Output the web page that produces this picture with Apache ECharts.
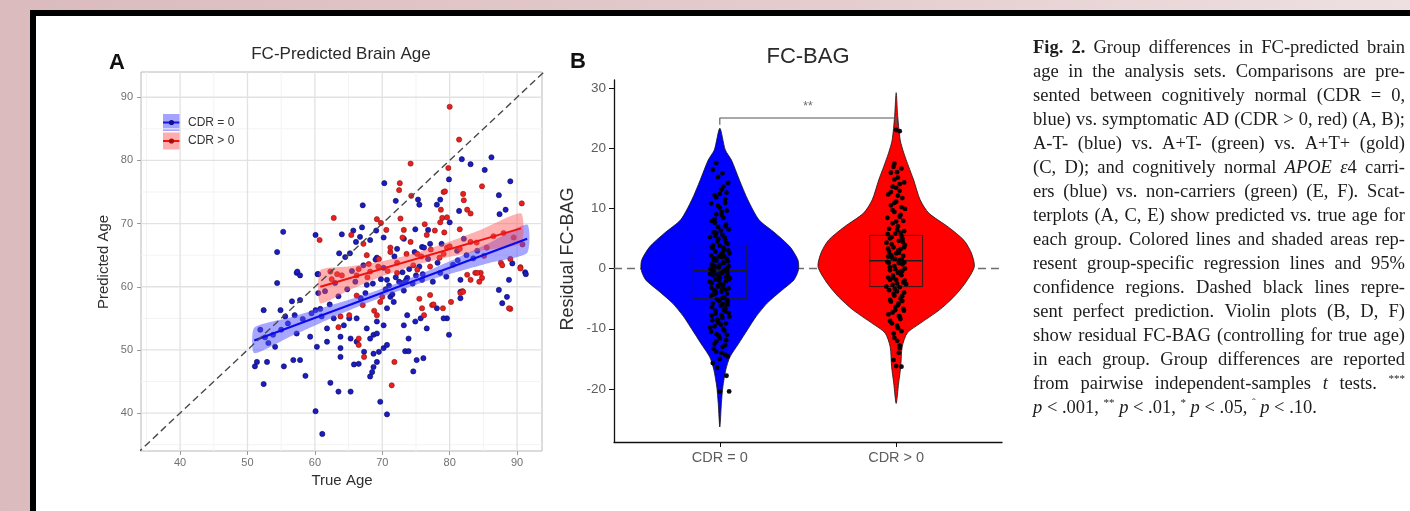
<!DOCTYPE html>
<html>
<head>
<meta charset="utf-8">
<title>FC-predicted brain age</title>
<script src="https://cdn.jsdelivr.net/npm/echarts@6/dist/echarts.min.js"></script>
<style>
  html, body { margin: 0; padding: 0; width: 1410px; height: 511px; overflow: hidden;
    background: linear-gradient(90deg, #dbbbbd 0%, #e4cbcd 55%, #eee0e1 100%); }
  #frame { position: absolute; left: 30px; top: 10px; width: 1400px; height: 520px; background: #000; }
  #paper { position: absolute; left: 36px; top: 16px; width: 1400px; height: 520px; background: #fff; }
  #chart { position: absolute; left: 0; top: 0; width: 1410px; height: 511px; }
</style>
</head>
<body>
<div id="frame"></div>
<div id="paper"></div>
<div id="chart"></div>
<script type="text/javascript">
// ---- panel A data: true age vs predicted age ----
var ageTicks = [40, 50, 60, 70, 80, 90];
var ageMinor = [35, 45, 55, 65, 75, 85];
var cdr0Points = [
  [86.2,80.5],[81.8,80.2],[83.1,79.4],[85.2,78.5],[79.9,77.0],[89.0,76.7],[70.3,76.4],[72.0,73.6],[75.3,73.8],[75.5,73.0],
  [78.6,73.8],[78.1,73.0],[67.1,72.9],[81.4,72.0],[87.3,74.5],[88.3,72.2],[87.4,71.5],[55.3,68.7],[54.4,65.5],[60.1,68.2],
  [65.7,68.9],[67.0,69.4],[69.1,68.9],[74.9,69.1],[76.8,69.0],[80.0,70.2],[64.0,68.3],[66.7,67.9],[68.2,67.4],[70.2,67.8],
  [66.1,67.1],[63.6,65.3],[64.5,64.7],[65.2,65.3],[69.2,64.6],[72.2,66.0],[73.2,67.6],[75.9,66.3],[77.1,66.8],[81.1,65.7],
  [82.1,67.6],[84.1,65.7],[89.3,63.7],[91.2,62.3],[57.3,62.2],[57.8,61.8],[60.4,62.0],[54.4,60.6],[67.7,60.3],[70.7,61.1],
  [72.9,60.6],[73.7,61.4],[75.9,61.1],[78.6,62.2],[81.6,61.1],[52.4,56.3],[54.9,56.3],[55.6,55.3],[56.6,57.7],[57.8,57.9],
  [51.9,53.2],[53.1,51.1],[54.1,50.5],[51.4,48.1],[51.1,47.4],[52.9,48.1],[55.4,47.4],[56.8,48.4],[57.8,48.4],[52.4,44.6],
  [58.6,45.9],[57.3,52.6],[59.3,52.1],[61.0,55.3],[60.1,56.3],[61.8,53.4],[62.8,55.0],[61.8,51.3],[60.3,50.5],[63.8,52.1],
  [64.3,53.9],[63.8,50.3],[63.8,48.9],[65.3,51.8],[66.2,51.3],[67.3,49.7],[65.8,47.7],[66.5,47.8],[65.1,55.0],[66.2,55.0],
  [67.7,53.4],[68.2,51.8],[68.7,52.4],[69.2,52.6],[68.7,49.4],[69.5,49.7],[70.2,50.3],[70.7,50.8],[69.2,48.1],[68.7,47.3],
  [68.5,46.5],[68.2,45.8],[69.7,41.8],[70.7,39.8],[60.1,40.3],[61.1,36.7],[62.3,44.8],[63.5,43.4],[65.3,43.4],[73.4,49.8],
  [73.9,49.8],[75.1,48.4],[76.1,48.7],[74.6,46.6],[73.9,51.8],[73.2,53.9],[73.7,55.5],[74.9,54.5],[75.7,55.0],[76.6,53.4],
  [78.1,56.6],[79.6,55.0],[79.9,52.4],[71.7,57.6],[70.7,56.6],[69.2,54.5],[70.2,53.9],[71.2,58.4],[81.6,58.2],[81.6,59.2],
  [87.3,59.5],[87.8,57.4],[88.5,58.4],[88.8,61.1],[91.3,62.0],[79.1,55.0],[60.5,62.0],[60.5,59.0],[57.4,62.4],
  [71.0,60.2],[72.0,61.5],[72.5,60.8],[73.0,62.3],[73.5,61.0],[74.0,62.8],[74.5,60.5],[75.0,61.8],[75.5,63.2],[76.0,62.0],
  [73.2,59.4],[71.5,58.8],[70.5,59.6],[69.8,61.2],[68.6,60.5],[67.5,59.0],[66.8,58.2],[77.5,60.8],[78.2,63.8],[76.8,64.4],
  [80.5,63.5],[81.2,64.2],[82.5,65.0],[83.5,64.5],[79.5,61.6],[66.0,60.8],[64.8,59.6],[63.5,58.5],[62.2,57.2],[60.8,56.5],
  [59.5,55.8],[58.2,54.9],[57.0,55.5],[56.0,54.2],[55.0,53.2],[53.8,52.4],[52.6,52.0],[61.5,59.3],[63.0,60.6],[65.5,62.5],
  [67.2,63.4],[69.0,64.3],[70.2,63.0],[71.8,64.8],[74.8,65.5],[76.2,66.2],[78.8,66.8]
];
var cdr1Points = [
  [80.0,88.5],[81.4,83.3],[79.8,78.8],[74.2,79.5],[84.8,75.9],[79.1,75.0],[82.0,74.7],[72.6,76.4],[72.5,75.3],[74.3,74.4],
  [79.3,75.1],[82.1,73.7],[78.7,72.2],[82.6,72.2],[83.1,71.6],[90.7,73.2],[72.7,70.8],[69.2,70.7],[62.8,70.9],[60.7,67.4],
  [65.4,68.2],[70.6,69.0],[69.8,70.1],[76.3,69.9],[77.8,68.9],[78.6,70.2],[78.9,70.9],[79.6,71.0],[81.5,69.1],[73.2,69.0],
  [67.2,66.8],[67.7,65.0],[71.2,65.5],[74.2,67.1],[75.2,65.2],[79.1,65.2],[79.6,66.2],[83.1,67.1],[85.1,64.9],[87.6,63.8],
  [89.0,64.4],[87.8,63.4],[90.5,63.1],[62.3,62.4],[63.3,62.0],[66.2,61.8],[68.2,62.4],[69.4,63.2],[72.2,62.2],[75.2,62.7],
  [77.1,63.2],[82.6,61.9],[83.8,62.2],[84.6,62.2],[84.8,61.4],[63.5,53.6],[66.5,51.8],[66.5,50.8],[67.3,48.9],[65.1,55.5],
  [71.8,48.1],[71.4,44.4],[76.2,55.5],[75.9,56.6],[77.4,57.1],[69.7,57.6],[69.2,55.5],[63.8,55.3],[81.9,59.3],[89.0,56.5],
  [77.1,58.7],[88.8,56.6],[90.5,62.9],[81.6,59.0],[83.1,61.1],[84.1,62.2],
  [66.5,62.8],[68.0,63.6],[69.5,64.4],[70.8,62.5],[72.2,63.8],[73.6,65.2],[74.6,63.4],[75.8,64.8],[77.2,65.9],[78.5,64.6],
  [80.0,66.4],[81.5,66.0],[84.0,67.0],[86.5,68.0],[64.0,61.8],[62.5,61.2],[67.8,61.5],[71.2,66.2],[73.0,67.8],[76.6,68.2],
  [79.2,68.6],[85.5,66.2],[88.0,68.5],[89.5,67.8],[90.8,66.7],[66.2,58.6],[67.1,57.1],[68.8,56.2],[70.0,58.4],[75.5,58.1],
  [77.6,57.2],[79.0,56.6],[80.2,57.6],[82.0,59.2],[84.4,60.8]
];
// regression lines and 95% bands
var fit0 = [[51.0,51.5],[91.5,67.6]];
var band0X  = [51, 56, 61, 66, 71, 76, 81, 86, 91.5];
var band0Lo = [49.5, 51.94, 54.33, 56.66, 58.8, 60.69, 62.33, 63.81, 65.35];
var band0Hi = [53.5, 55.04, 56.63, 58.26, 60.1, 62.19, 64.53, 67.01, 69.85];
var fit1 = [[60.8,60.0],[90.6,69.25]];
var band1X  = [60.8, 65, 70, 75, 80, 85, 90.6];
var band1Lo = [57.4, 59.4, 61.65, 63.45, 64.75, 65.8, 66.9];
var band1Hi = [62.6, 63.2, 64.05, 65.35, 67.15, 69.2, 71.6];
var identityLine = [[30,30],[100,100]];

// ---- panel B data: residual FC-BAG ----
var groupNames = ['CDR = 0', 'CDR > 0'];
var bagTicks = [-20, -10, 0, 10, 20, 30];
var violin0Y = [23.3, 19.7, 18, 14.7, 11.4, 8.1, 5.9, 3.6, 1.4, -0.2, -1.9, -3.6, -5.7, -8, -10.2, -12.4, -14.7, -16.8, -19.7, -22.4, -26.3];
var violin0W = [0, 0.031, 0.066, 0.111, 0.159, 0.222, 0.313, 0.398, 0.443, 0.446, 0.42, 0.352, 0.27, 0.205, 0.156, 0.108, 0.057, 0.034, 0.017, 0.009, 0];
var violin1Y = [29.2, 25.2, 21.3, 19.2, 16.9, 14.7, 11.4, 9.2, 6.9, 4.7, 2.6, 0.3, -2.4, -4.7, -6.9, -9.1, -10.7, -13, -16.3, -19, -22.4];
var violin1W = [0, 0.009, 0.023, 0.043, 0.071, 0.099, 0.136, 0.185, 0.295, 0.384, 0.426, 0.443, 0.392, 0.327, 0.244, 0.136, 0.063, 0.034, 0.026, 0.014, 0];
var boxQ1 = [-5.0, -3.0];
var boxMed = [-0.3, 1.3];
var boxQ3 = [3.8, 5.5];
// [jitter offset, residual]
var jitter0 = [
  [-0.04,16.4],[-0.02,17.5],[0.047,14.2],[0.01,13.1],[-0.03,12.2],[0.03,11.5],[-0.05,10.8],[0.0,10.1],[0.04,9.6],[-0.02,9.0],
  [0.02,8.4],[-0.045,7.9],[0.035,7.3],[-0.01,6.9],[0.05,6.5],[-0.035,6.0],[0.015,5.6],[-0.055,5.2],[0.03,4.8],[-0.015,4.5],
  [0.045,4.1],[0.0,3.8],[-0.04,3.4],[0.025,3.1],[-0.025,2.8],[0.055,2.5],[-0.05,2.2],[0.01,1.9],[0.04,1.6],[-0.02,1.3],
  [0.02,1.0],[-0.045,0.7],[0.05,0.4],[-0.005,0.2],[0.03,-0.1],[-0.035,-0.4],[0.015,-0.7],[-0.055,-0.9],[0.045,-1.2],[0.0,-1.5],
  [-0.025,-1.8],[0.035,-2.1],[-0.045,-2.4],[0.02,-2.7],[-0.01,-3.0],[0.05,-3.3],[-0.03,-3.6],[0.01,-3.9],[0.04,-4.2],[-0.05,-4.5],
  [0.025,-4.8],[-0.015,-5.1],[0.045,-5.5],[-0.04,-5.8],[0.005,-6.2],[0.03,-6.6],[-0.025,-7.0],[0.05,-7.4],[-0.045,-7.8],[0.015,-8.2],
  [-0.01,-8.7],[0.035,-9.1],[-0.03,-9.6],[0.02,-10.0],[-0.05,-10.5],[0.04,-11.0],[0.0,-11.6],[-0.02,-12.1],[0.03,-12.7],[-0.035,-13.3],
  [0.01,-14.0],[0.045,-14.6],[-0.04,-15.7],[0.038,-17.8],[0.053,-20.4],[0.0,-20.4],[-0.015,-16.5],
  [0.022,0.9],[-0.032,1.7],[0.042,-0.6],[-0.012,-2.9],[0.052,-1.8],[-0.052,0.0],[0.008,2.4],[-0.038,3.9],[0.028,5.1],[-0.022,-4.1],
  [0.018,-5.9],[-0.048,-3.2],[0.048,3.0],[-0.008,4.9],[0.032,-7.1],[-0.028,7.6],[0.012,8.9],[-0.042,-8.6],[0.038,12.6],[-0.018,-10.9],
  [0.006,6.3],[-0.026,5.4],[0.036,4.3],[-0.046,3.6],[0.016,2.7],[-0.006,2.0],[0.046,1.2],[-0.036,0.5],[0.026,-0.3],[-0.016,-1.0],
  [0.056,-1.6],[-0.056,-2.2],[0.004,-2.6],[0.034,-3.5],[-0.034,-4.3],[0.014,-4.9],[-0.004,-5.4],[0.044,-6.0],[-0.044,-6.4],[0.024,-6.9],
  [-0.024,-7.5],[0.054,-8.0],[-0.014,-8.4],[0.006,-9.3],[-0.054,-9.8],[0.026,-10.3],[-0.006,-11.2],[0.036,-11.9],[-0.03,-12.5],[0.016,-13.0],
  [-0.02,-13.8],[0.03,-14.3],[0.0,-15.0],[-0.01,-9.0],[0.01,-7.7],[0.04,-5.2],[-0.04,-1.1],[0.0,0.6],[0.02,3.5],[-0.02,5.9],
  [0.03,7.0],[-0.03,8.2],[0.01,9.4],[-0.01,10.4],[0.03,10.9],[-0.02,11.8],[0.0,12.4],[0.02,13.6],[-0.01,15.2],[0.015,15.8],
  [-0.025,0.3],[0.045,0.1],[-0.045,-0.2],[0.005,-0.8],[0.035,-1.4],[-0.035,1.4],[0.025,2.0],[-0.005,-2.0],[0.015,-3.3],[-0.025,-3.8]
];
var jitter1 = [
  [0.0,23.0],[0.02,22.8],[-0.01,17.4],[0.03,16.6],[-0.03,15.9],[0.01,15.1],[0.045,14.3],[-0.02,13.6],[0.02,12.9],[-0.045,12.3],
  [0.035,11.7],[0.0,11.1],[-0.03,10.5],[0.05,9.9],[-0.01,9.4],[0.025,8.9],[-0.05,8.4],[0.04,7.9],[-0.02,7.5],[0.01,7.0],
  [-0.04,6.6],[0.045,6.2],[-0.005,5.8],[0.03,5.4],[-0.035,5.0],[0.015,4.6],[-0.055,4.3],[0.05,3.9],[-0.015,3.5],[0.025,3.2],
  [-0.04,2.8],[0.0,2.5],[0.04,2.1],[-0.025,1.8],[0.02,1.4],[-0.05,1.1],[0.035,0.7],[-0.01,0.4],[0.05,0.0],[-0.035,-0.3],
  [0.01,-0.7],[0.03,-1.1],[-0.045,-1.5],[0.0,-1.9],[0.04,-2.3],[-0.02,-2.7],[0.02,-3.1],[-0.04,-3.6],[0.045,-4.0],[-0.01,-4.5],
  [0.025,-5.0],[-0.03,-5.5],[0.01,-6.1],[0.04,-6.7],[-0.02,-7.3],[0.02,-8.0],[-0.035,-8.7],[0.005,-9.5],[0.03,-10.4],[-0.01,-11.5],
  [0.02,-12.8],[0.015,-14.0],[0.0,-16.2],[0.03,-16.3],[-0.015,-15.2],
  [0.012,3.0],[-0.028,2.2],[0.032,1.5],[-0.042,0.9],[0.022,-0.5],[-0.018,-1.2],[0.048,-2.0],[-0.008,-3.4],[0.038,4.4],[-0.048,5.7],
  [0.006,6.4],[-0.026,5.2],[0.036,4.9],[-0.046,3.3],[0.016,2.6],[-0.006,1.6],[0.046,1.0],[-0.036,0.2],[0.026,-0.9],[-0.016,-1.6],
  [0.056,-2.6],[-0.056,-3.0],[0.004,-3.8],[0.034,-4.6],[-0.034,-5.2],[0.014,-5.8],[-0.004,-6.4],[0.044,-7.0],[-0.044,-7.6],[0.024,-8.4],
  [-0.024,-9.1],[0.01,-9.9],[-0.014,-10.8],[0.006,-12.0],[0.02,-13.2],[0.0,7.8],[0.02,8.6],[-0.02,9.7],[0.03,10.2],[-0.01,10.9],
  [0.01,12.1],[-0.03,12.7],[0.0,13.4],[0.02,14.0],[-0.01,14.8],[0.005,16.0],[-0.015,16.9],[0.025,5.9],[-0.025,4.0],[0.045,3.5],
  [-0.045,2.0],[0.015,0.9],[-0.005,-0.1],[0.035,-0.4],[-0.035,-1.9],[0.005,-2.5],[-0.015,-4.2],[0.035,-5.4],[-0.005,-6.9],[0.015,-7.9]
];
var bracket = [[1,23.85],[1,25],[2,25],[2,23.85]];
var sigMark = [[1.5, 26.9]];

// ---- caption ----
var captionLines = [
  'b:Fig. b:2. Group differences in FC-predicted brain',
  'age in the analysis sets. Comparisons are pre-',
  'sented between cognitively normal (CDR = 0,',
  'blue) vs. symptomatic AD (CDR > 0, red) (A, B);',
  'A-T- (blue) vs. A+T- (green) vs. A+T+ (gold)',
  '(C, D); and cognitively normal i:APOE i:ε|4 carri-',
  'ers (blue) vs. non-carriers (green) (E, F). Scat-',
  'terplots (A, C, E) show predicted vs. true age for',
  'each group. Colored lines and shaded areas rep-',
  'resent group-specific regression lines and 95%',
  'confidence regions. Dashed black lines repre-',
  'sent perfect prediction. Violin plots (B, D, F)',
  'show residual FC-BAG (controlling for true age)',
  'in each group. Group differences are reported',
  'from pairwise independent-samples i:t tests. s:***',
  'i:p < .001, s:** i:p < .01, s:* i:p < .05, s:ˆ i:p < .10.'
];

var sans = '"Liberation Sans", Arial, sans-serif';
var serif = '"Liberation Serif", "Times New Roman", serif';

// build the justified caption as graphic text elements
var capLeft = 1033, capRight = 1405, capTop = 48, capStep = 24, capSize = 18.5;
var measureCtx = document.createElement('canvas').getContext('2d');
function segFont(st) {
  if (st === 'b') return 'bold ' + capSize + 'px ' + serif;
  if (st === 'i') return 'italic ' + capSize + 'px ' + serif;
  if (st === 's') return '11px ' + serif;
  return capSize + 'px ' + serif;
}
function parseWord(w) {
  return w.split('|').map(function (s) {
    var st = 'n';
    if (/^[bis]:/.test(s)) { st = s.charAt(0); s = s.slice(2); }
    measureCtx.font = segFont(st);
    return { text: s, style: st, width: measureCtx.measureText(s).width };
  });
}
measureCtx.font = segFont('n');
var spaceW = measureCtx.measureText(' ').width;
var captionGraphics = [];
captionLines.forEach(function (line, li) {
  var words = line.split(' ').filter(function (w) { return w.length; }).map(parseWord);
  var total = 0;
  words.forEach(function (segs) { segs.forEach(function (s) { total += s.width; }); });
  var gap = spaceW;
  if (li < captionLines.length - 1 && words.length > 1) {
    gap = Math.max(2, (capRight - capLeft - total) / (words.length - 1));
  }
  var x = capLeft, y = capTop + li * capStep;
  words.forEach(function (segs) {
    segs.forEach(function (s) {
      captionGraphics.push({
        type: 'text', x: x, y: s.style === 's' ? y - 5 : y, silent: true,
        style: { text: s.text, font: segFont(s.style), fill: '#1c1c1c', align: 'left', verticalAlign: 'middle' }
      });
      x += s.width;
    });
    x += gap;
  });
});

function label(x, y, text, font, fill, rot) {
  return { type: 'text', x: x, y: y, rotation: rot || 0, silent: true,
    style: { text: text, font: font, fill: fill, align: 'center', verticalAlign: 'middle' } };
}

// legend keys of panel A
function legendKey(y, band, line, dot) {
  return { type: 'group', silent: true, children: [
    { type: 'rect', shape: { x: 163, y: y - 8.5, width: 17, height: 17 }, style: { fill: band } },
    { type: 'line', shape: { x1: 163, y1: y, x2: 180, y2: y }, style: { stroke: line, lineWidth: 2 } },
    { type: 'circle', shape: { cx: 171.5, cy: y, r: 2.6 }, style: { fill: dot } }
  ] };
}

function bandSeries(xs, lo, hi, color) {
  return {
    type: 'custom', xAxisIndex: 0, yAxisIndex: 0, silent: true, z: 3,
    data: [[xs[0], lo[0]]],
    renderItem: function (params, api) {
      var pts = [];
      for (var i = 0; i < xs.length; i++) pts.push(api.coord([xs[i], hi[i]]));
      for (var j = xs.length - 1; j >= 0; j--) pts.push(api.coord([xs[j], lo[j]]));
      return { type: 'polygon', shape: { points: pts, smooth: 0.2 }, style: { fill: color } };
    }
  };
}

var violins = [
  { y: violin0Y, w: violin0W, color: '#0000ff' },
  { y: violin1Y, w: violin1W, color: '#ff0000' }
];

var chart = echarts.init(document.getElementById('chart'));
var option = {
  backgroundColor: 'transparent',
  animation: false,
  grid: [
    { left: 141, top: 72, width: 401, height: 379, show: true, backgroundColor: '#fff', borderColor: '#b8b8b8', borderWidth: 1 },
    { left: 614, top: 80, width: 388, height: 362 }
  ],
  xAxis: [
    { gridIndex: 0, type: 'value', min: 34.2, max: 93.7,
      axisLine: { show: false, onZero: false },
      axisTick: { show: true, customValues: ageTicks, length: 4, lineStyle: { color: '#9a9a9a' } },
      axisLabel: { customValues: ageTicks, color: '#707070', fontSize: 11, fontFamily: sans, margin: 6 },
      splitLine: { show: false } },
    { gridIndex: 1, type: 'value', min: 0.4, max: 2.6,
      axisLine: { show: true, onZero: false, lineStyle: { color: '#111', width: 1.3 } },
      axisTick: { show: true, customValues: [1, 2], length: 5, lineStyle: { color: '#111' } },
      axisLabel: { customValues: [1, 2], color: '#5e5e5e', fontSize: 14.5, fontFamily: sans, margin: 8,
        formatter: function (v) { return groupNames[Math.round(v) - 1]; } },
      splitLine: { show: false } }
  ],
  yAxis: [
    { gridIndex: 0, type: 'value', min: 34, max: 94,
      axisLine: { show: false, onZero: false },
      axisTick: { show: true, customValues: ageTicks, length: 4, lineStyle: { color: '#9a9a9a' } },
      axisLabel: { customValues: ageTicks, color: '#707070', fontSize: 11, fontFamily: sans, margin: 8 },
      splitLine: { show: false } },
    { gridIndex: 1, type: 'value', min: -28.8, max: 31.3,
      axisLine: { show: true, onZero: false, lineStyle: { color: '#111', width: 1.3 } },
      axisTick: { show: true, customValues: bagTicks, length: 5, lineStyle: { color: '#111' } },
      axisLabel: { customValues: bagTicks, color: '#5e5e5e', fontSize: 13.5, fontFamily: sans, margin: 8 },
      splitLine: { show: false } }
  ],
  graphic: [
    label(341, 54, 'FC-Predicted Brain Age', '17px ' + sans, '#2a2a2a'),
    label(117, 63, 'A', 'bold 22px ' + sans, '#111'),
    label(104, 262, 'Predicted Age', '15px ' + sans, '#2f2f2f', Math.PI / 2),
    label(342, 481, 'True Age', '15px ' + sans, '#2f2f2f'),
    label(808, 57, 'FC-BAG', '22px ' + sans, '#2a2a2a'),
    label(578, 62, 'B', 'bold 22px ' + sans, '#111'),
    label(568, 259, 'Residual FC-BAG', '18px ' + sans, '#2f2f2f', Math.PI / 2),
    legendKey(122.5, 'rgba(90,90,255,0.55)', '#1515e0', '#10108a'),
    legendKey(141, 'rgba(255,90,90,0.5)', '#ee1111', '#a01010'),
    { type: 'text', x: 188, y: 123, silent: true, style: { text: 'CDR = 0', font: '12px ' + sans, fill: '#333', verticalAlign: 'middle' } },
    { type: 'text', x: 188, y: 141, silent: true, style: { text: 'CDR > 0', font: '12px ' + sans, fill: '#333', verticalAlign: 'middle' } }
  ].concat(captionGraphics),
  series: [
    // panel grid lines
    { type: 'custom', xAxisIndex: 0, yAxisIndex: 0, silent: true, z: 1, data: [[60, 60]],
      renderItem: function (params, api) {
        var kids = [];
        function add(vals, color, w) {
          vals.forEach(function (v) {
            var a = api.coord([v, 34]), b = api.coord([v, 94]);
            kids.push({ type: 'line', shape: { x1: a[0], y1: a[1], x2: b[0], y2: b[1] }, style: { stroke: color, lineWidth: w } });
            var c = api.coord([34.2, v]), d = api.coord([93.7, v]);
            kids.push({ type: 'line', shape: { x1: c[0], y1: c[1], x2: d[0], y2: d[1] }, style: { stroke: color, lineWidth: w } });
          });
        }
        add(ageMinor, '#f3f3f3', 1);
        add(ageTicks, '#e2e2e2', 1.3);
        return { type: 'group', children: kids };
      } },
    { type: 'scatter', xAxisIndex: 0, yAxisIndex: 0, z: 2, data: cdr0Points, symbolSize: 5.2,
      itemStyle: { color: '#1c1cc4', borderColor: '#0a0a55', borderWidth: 0.6, opacity: 1 } },
    { type: 'scatter', xAxisIndex: 0, yAxisIndex: 0, z: 2, data: cdr1Points, symbolSize: 5.2,
      itemStyle: { color: '#ea2020', borderColor: '#8a1010', borderWidth: 0.6, opacity: 1 } },
    bandSeries(band0X, band0Lo, band0Hi, 'rgba(80,80,255,0.5)'),
    bandSeries(band1X, band1Lo, band1Hi, 'rgba(255,80,80,0.45)'),
    { type: 'line', xAxisIndex: 0, yAxisIndex: 0, z: 4, data: fit0, symbol: 'none', lineStyle: { color: '#0a0aee', width: 2 } },
    { type: 'line', xAxisIndex: 0, yAxisIndex: 0, z: 4, data: fit1, symbol: 'none', lineStyle: { color: '#f01010', width: 2 } },
    { type: 'line', xAxisIndex: 0, yAxisIndex: 0, z: 5, data: identityLine, symbol: 'none', clip: true,
      lineStyle: { color: '#4a4a4a', width: 1.4, type: [7, 4] } },

    // panel B
    { type: 'line', xAxisIndex: 1, yAxisIndex: 1, z: 1, data: [[0.4, 0], [2.6, 0]], symbol: 'none',
      lineStyle: { color: '#6e6e6e', width: 1.6, type: [8, 5] } },
    { type: 'custom', xAxisIndex: 1, yAxisIndex: 1, z: 2, silent: true, data: [[1, 0], [2, 0]],
      renderItem: function (params, api) {
        var v = violins[params.dataIndex], c = api.value(0), right = [], left = [];
        for (var i = 0; i < v.y.length; i++) {
          right.push(api.coord([c + v.w[i], v.y[i]]));
          if (v.w[i] > 0) left.unshift(api.coord([c - v.w[i], v.y[i]]));
        }
        return { type: 'polygon', shape: { points: right.concat(left), smooth: 0.25 },
          style: { fill: v.color, stroke: '#161616', lineWidth: 0.8 } };
      } },
    { type: 'custom', xAxisIndex: 1, yAxisIndex: 1, z: 3, silent: true, data: [[1, 0], [2, 0]],
      renderItem: function (params, api) {
        var i = params.dataIndex, c = api.value(0);
        var tl = api.coord([c - 0.15, boxQ3[i]]), br = api.coord([c + 0.15, boxQ1[i]]);
        var ml = api.coord([c - 0.15, boxMed[i]]), mr = api.coord([c + 0.15, boxMed[i]]);
        return { type: 'group', children: [
          { type: 'rect', shape: { x: tl[0], y: tl[1], width: br[0] - tl[0], height: br[1] - tl[1] },
            style: { fill: 'none', stroke: '#1e1e1e', lineWidth: 0.9 } },
          { type: 'line', shape: { x1: ml[0], y1: ml[1], x2: mr[0], y2: mr[1] }, style: { stroke: '#1e1e1e', lineWidth: 1.4 } }
        ] };
      } },
    { type: 'scatter', xAxisIndex: 1, yAxisIndex: 1, z: 4, symbolSize: 4.8,
      data: jitter0.map(function (p) { return [1 + p[0], p[1]]; }), itemStyle: { color: '#000', opacity: 0.95 } },
    { type: 'scatter', xAxisIndex: 1, yAxisIndex: 1, z: 4, symbolSize: 4.8,
      data: jitter1.map(function (p) { return [2 + p[0], p[1]]; }), itemStyle: { color: '#000', opacity: 0.95 } },
    { type: 'line', xAxisIndex: 1, yAxisIndex: 1, z: 5, data: bracket, symbol: 'none',
      lineStyle: { color: '#555', width: 1.1 } },
    { type: 'scatter', xAxisIndex: 1, yAxisIndex: 1, z: 5, data: sigMark, symbolSize: 0, silent: true,
      label: { show: true, position: 'inside', formatter: '**', color: '#444', fontSize: 12, fontFamily: sans } }
  ]
};
chart.setOption(option);
</script>
</body>
</html>
